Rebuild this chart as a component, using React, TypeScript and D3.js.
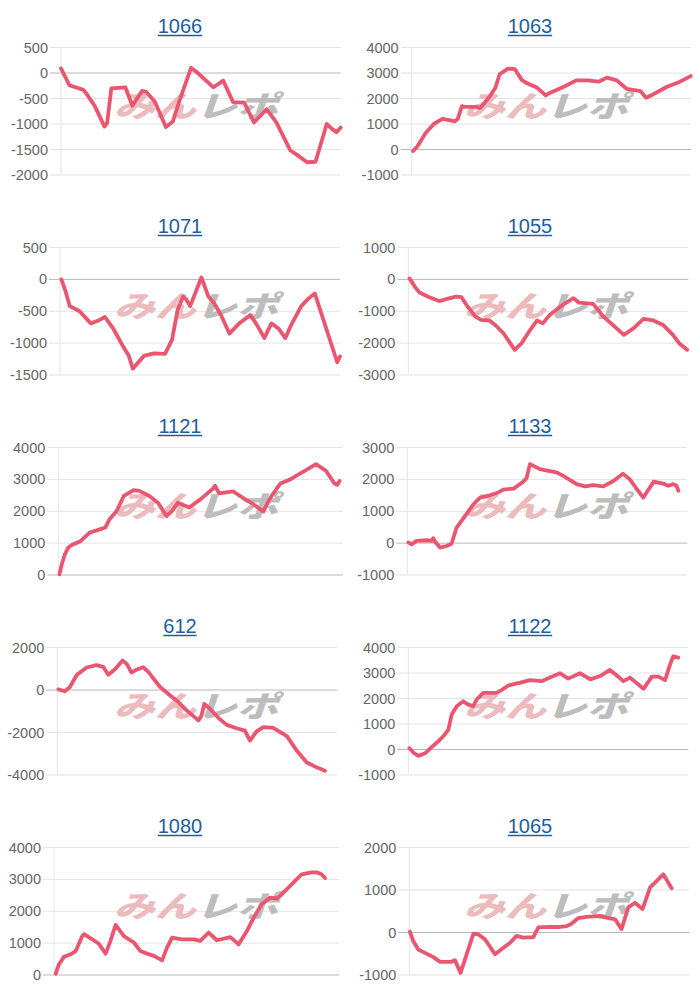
import React from "react";
import * as d3 from "d3";

// ---- data: [progress %, value] ----
const titles = ["1066", "1063", "1071", "1055", "1121", "1133", "612", "1122", "1080", "1065"];

const d1066 = [[0,90],[3,-240],[8,-330],[9,-400],[12,-640],[14,-870],[15.5,-1050],[16.5,-980],[18,-300],[23,-280],[25.5,-640],[29,-350],[30.5,-370],[33.5,-560],[37.5,-1060],[40,-950],[42.5,-520],[46.5,100],[48.5,20],[54.5,-280],[58,-150],[61.5,-570],[65.5,-580],[69,-970],[73.5,-710],[77,-970],[82,-1520],[84,-1590],[88,-1750],[91,-1740],[95,-1000],[97,-1100],[98.5,-1160],[100,-1070]];
const d1063 = [[0.5,-60],[2,120],[5,650],[8,1010],[11,1200],[13.5,1150],[15.5,1100],[16.5,1200],[18,1700],[19,1670],[23,1670],[24.5,1620],[28,2090],[30,2420],[31.5,2950],[34.5,3170],[37,3150],[39.5,2720],[41,2620],[45,2420],[48,2120],[49.5,2220],[54.5,2460],[59,2710],[63,2710],[67,2660],[70,2820],[73.5,2710],[77,2380],[82,2290],[84,2030],[86.5,2160],[91.5,2460],[96,2650],[100,2880]];
const d1071 = [[0.5,0],[2,-190],[3.5,-420],[7,-500],[11,-690],[13.5,-650],[16,-590],[19,-770],[22.5,-1050],[24.5,-1190],[26,-1400],[30,-1200],[33.5,-1160],[37.5,-1170],[40,-950],[42,-480],[44,-270],[45,-310],[46.5,-420],[50.5,30],[53,-270],[55,-370],[57.5,-560],[60.5,-850],[64,-690],[68,-560],[70,-690],[73,-920],[75.5,-690],[78,-770],[80.5,-920],[82.5,-720],[86,-430],[88.5,-310],[91,-220],[99,-1300],[100,-1210]];
const d1055 = [[0.4,30],[2.5,-250],[4,-410],[7.5,-560],[11,-680],[13.5,-620],[17,-540],[19,-560],[21,-830],[24,-1170],[26,-1270],[29,-1290],[31,-1430],[34,-1690],[38,-2210],[40.5,-2000],[43.5,-1590],[46,-1290],[48,-1380],[50.5,-1120],[53.5,-910],[56,-750],[59,-590],[61,-730],[66,-770],[69.5,-1150],[73,-1430],[77,-1740],[80.5,-1530],[84,-1240],[87.5,-1290],[91,-1430],[94.5,-1740],[97,-2030],[99.6,-2210]];
const d1121 = [[0.4,20],[1.2,330],[2.3,650],[3.5,860],[4.7,940],[7.6,1050],[11,1330],[13.5,1400],[16.5,1490],[18,1750],[20.5,2010],[23,2480],[26.5,2660],[28.5,2640],[32,2480],[35,2270],[38,1850],[40,2010],[42,2270],[46,2120],[50,2380],[54.5,2720],[55,2800],[56.5,2560],[61.5,2620],[65.5,2380],[68.5,2220],[72,1990],[74.5,2430],[78,2870],[81.5,3000],[83.5,3110],[87,3290],[90.5,3480],[94,3270],[97,2870],[98,2830],[98.8,2950]];
const d1133 = [[0.4,20],[1.5,-40],[3.3,70],[7,90],[8.7,70],[9.3,150],[9.8,60],[11.7,-140],[14,-90],[15.8,-20],[17.6,490],[20.6,850],[23.6,1220],[26,1430],[29.5,1500],[32.5,1590],[34.3,1680],[38,1710],[41,1900],[42.6,2040],[43.8,2480],[47.4,2320],[50.4,2270],[53.3,2220],[55.7,2110],[60.5,1850],[63.5,1780],[66.4,1820],[70,1780],[73.6,1950],[77,2180],[79.5,2000],[82,1690],[84.3,1430],[88,1930],[91.4,1870],[93.2,1800],[95,1850],[96.2,1800],[96.8,1640]];
const d612 = [[0.4,30],[2.7,-60],[4.5,140],[7,720],[10.5,1060],[14,1170],[16.4,1090],[18.2,720],[20.6,980],[23.3,1390],[24.8,1230],[26.5,820],[28.3,960],[30.7,1070],[32.5,850],[36.7,140],[40.2,-250],[42.6,-490],[46.2,-960],[50.4,-1430],[51.5,-1200],[52.5,-650],[54.5,-880],[57.5,-1310],[60.5,-1640],[64,-1800],[67,-1910],[68.8,-2380],[71.2,-1950],[73.6,-1750],[77.1,-1780],[82,-2170],[85.5,-2850],[89,-3400],[92.6,-3640],[95.6,-3800]];
const d1122 = [[0.4,50],[1.8,-120],[3.6,-250],[6,-150],[8.3,90],[10.7,320],[13,580],[14.3,780],[15.5,1370],[17.3,1700],[19.6,1890],[21.4,1760],[23.2,1700],[24.4,1960],[26.8,2220],[31.5,2220],[33.3,2330],[35.7,2510],[40,2620],[43.5,2720],[47.6,2680],[50.6,2820],[54.2,2990],[57.1,2780],[61.3,2990],[65,2750],[68.5,2880],[72,3120],[74.4,2910],[76.8,2680],[79.2,2820],[84,2380],[87,2860],[89.3,2860],[91.7,2720],[93.5,3340],[94.6,3650],[96.4,3600]];
const d1080 = [[0.6,40],[1.7,330],[3.5,570],[5.8,650],[7.6,750],[9.9,1220],[10.5,1280],[13.4,1120],[15.7,980],[18.1,670],[19.8,1070],[21.6,1570],[24.5,1220],[28,1020],[30.3,750],[32.6,670],[35,600],[37.9,460],[39.6,860],[41.4,1170],[44.9,1120],[49,1120],[51.3,1070],[54.2,1330],[57.1,1090],[61.8,1190],[64.7,960],[67.6,1380],[70,1800],[72.8,2220],[75.8,2430],[78.1,2400],[81.6,2690],[83.9,2900],[86.8,3160],[90.3,3220],[92.1,3220],[93.8,3160],[95,3040]];
const d1065 = [[0.2,20],[1.4,-200],[3.2,-400],[5.6,-480],[8.6,-580],[11,-690],[15,-690],[16.3,-650],[18.3,-950],[20.5,-510],[22.9,-30],[24.6,-40],[27,-160],[30.6,-510],[33.6,-360],[36,-240],[38.3,-80],[40.7,-120],[44.3,-110],[46.1,120],[50.2,130],[53.8,130],[56.2,150],[58,210],[60.4,340],[63.3,370],[68,390],[70.5,350],[73.5,310],[75.8,80],[78.2,590],[80.6,700],[83.3,550],[86,1060],[88.3,1210],[90.7,1370],[93.7,1040]];

const series = [d1066, d1063, d1071, d1055, d1121, d1133, d612, d1122, d1080, d1065];
const yMins = [-2000, -1000, -1500, -3000, 0, -1000, -4000, -1000, 0, -1000];
const yMaxs = [500, 4000, 500, 1000, 4000, 3000, 2000, 4000, 4000, 2000];
const ySteps = [500, 1000, 500, 1000, 1000, 1000, 2000, 1000, 1000, 1000];

// ---- layout ----
const axisLeft = [61, 61.7, 60, 58.3, 58.3, 57.3, 57.3, 58.3, 54, 59.3];
const axisRight = [340.7, 340.7, 340, 338.3, 343, 337.3, 337.3, 338.3, 339.3, 339.3];
const PLOT_TOP = 47.5;
const PLOT_BOTTOM = 175;
const LINE_COLOR = "#ea5570";
const FONT = "'Liberation Sans', Arial, sans-serif";
const CJK = "'Noto Sans CJK JP', sans-serif";

function Panel({ i }: { i: number }) {
  const col = i % 2;
  const row = Math.floor(i / 2);
  const ox = col * 350;
  const oy = row * 200;
  const x = d3.scaleLinear().domain([0, 100]).range([axisLeft[i], axisRight[i]]);
  const y = d3.scaleLinear().domain([yMins[i], yMaxs[i]]).range([PLOT_BOTTOM, PLOT_TOP]);
  const ticks = d3.range(yMins[i], yMaxs[i] + ySteps[i] / 2, ySteps[i]);
  const line = d3.line<number[]>().x((d) => x(d[0])).y((d) => y(d[1]));
  const cx = 180;
  const titleW = titles[i].length * 11.1;
  return (
    <g transform={`translate(${ox},${oy})`}>
      <text x={cx} y={33} textAnchor="middle" fontFamily={FONT} fontSize={20} fill="#1f5e9c">
        {titles[i]}
      </text>
      <line x1={cx - titleW / 2} x2={cx + titleW / 2} y1={35.5} y2={35.5} stroke="#1f5e9c" strokeWidth={1.3} />
      {ticks.map((t) => (
        <g key={t}>
          <line
            x1={axisLeft[i] - 11}
            x2={axisRight[i]}
            y1={y(t)}
            y2={y(t)}
            stroke={t === 0 ? "#b8b8b8" : "#e4e4e4"}
            strokeWidth={1}
          />
          <text
            x={axisLeft[i] - 13}
            y={y(t)}
            dy="0.35em"
            textAnchor="end"
            fontFamily={FONT}
            fontSize={14.5}
            fill="#666"
          >
            {t}
          </text>
        </g>
      ))}
      <line x1={axisLeft[i]} x2={axisLeft[i]} y1={PLOT_TOP} y2={PLOT_BOTTOM} stroke="#e4e4e4" strokeWidth={1} />
      {/* watermark */}
      <g transform="translate(114,117) scale(1,0.72) skewX(-14)" opacity={0.9}>
        <text x={0} y={0} fontFamily={CJK} fontWeight={900} fontSize={41} fill="#e9b4b8">
          みん
        </text>
        <text x={82} y={0} fontFamily={CJK} fontWeight={900} fontSize={41} fill="#b6b6b6">
          レポ
        </text>
      </g>
      <path
        d={line(series[i]) || ""}
        fill="none"
        stroke={LINE_COLOR}
        strokeWidth={3.8}
        strokeLinejoin="round"
        strokeLinecap="round"
      />
    </g>
  );
}

export default function App() {
  return (
    <svg
      width={700}
      height={1000}
      style={{ position: "absolute", left: 0, top: 0, background: "#fff" }}
    >
      <rect width={700} height={1000} fill="#fff" />
      {series.map((_, i) => (
        <Panel key={i} i={i} />
      ))}
    </svg>
  );
}
